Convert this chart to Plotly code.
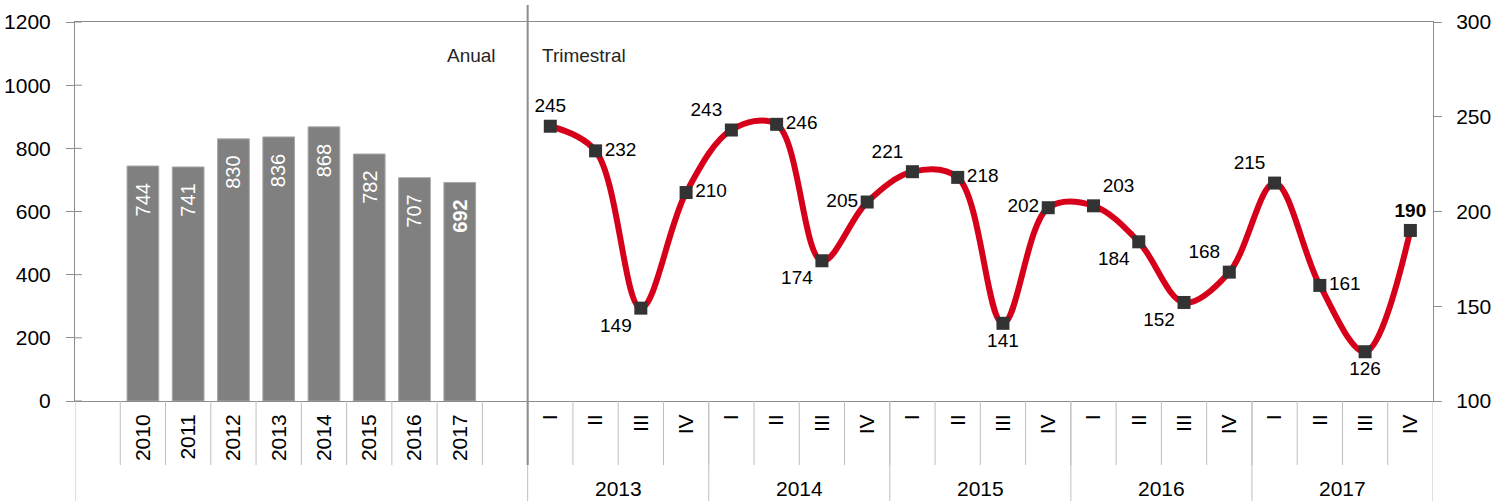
import plotly.graph_objects as go

# ---------------- data ----------------
years = ["2010", "2011", "2012", "2013", "2014", "2015", "2016", "2017"]
annual_values = [744, 741, 830, 836, 868, 782, 707, 692]

quarter_years = ["2013", "2014", "2015", "2016", "2017"]
quarters = ["I", "II", "III", "IV"]
quarterly_values = [245, 232, 149, 210,
                    243, 246, 174, 205,
                    221, 218, 141, 202,
                    203, 184, 152, 168,
                    215, 161, 126, 190]
quarter_label_pos = ["top center", "middle right", "bottom left", "middle right",
                     "top left", "middle right", "bottom left", "middle left",
                     "top left", "middle right", "bottom center", "middle left",
                     "top right", "bottom left", "bottom left", "top left",
                     "top left", "middle right", "bottom center", "top center"]

left_ticks = [0, 200, 400, 600, 800, 1000, 1200]
right_ticks = [100, 150, 200, 250, 300]

FONT = "Liberation Sans Narrow, Arial Narrow, Liberation Sans, Arial, sans-serif"
AXIS_GRAY = "#8c8c8c"
SEP_GRAY = "#bfbfbf"

# slot layout: slot 0 blank, years, blank slot, quarters
year_slots = [1 + i for i in range(len(years))]
q_start = len(years) + 2
quarter_slots = [q_start + i for i in range(len(quarterly_values))]
n_slots = q_start + len(quarterly_values)

fig = go.Figure()

fig.add_trace(go.Bar(
    x=year_slots, y=annual_values,
    marker=dict(color="#808080", line=dict(color="#a6a6a6", width=1)),
    width=0.7, yaxis="y", hoverinfo="y", showlegend=False,
))

q_text = [f"<b>{v}</b>" if i == len(quarterly_values) - 1 else str(v)
          for i, v in enumerate(quarterly_values)]
fig.add_trace(go.Scatter(
    x=quarter_slots, y=quarterly_values, yaxis="y2",
    mode="lines+markers+text",
    line=dict(color="#d7001b", width=6, shape="spline", smoothing=1.0),
    marker=dict(symbol="square", size=13, color="#333333"),
    text=q_text, textposition=quarter_label_pos,
    textfont=dict(family=FONT, size=19, color="#000000"),
    showlegend=False,
))

annotations = []
# bar value labels (rotated, inside top)
for i, (s, v) in enumerate(zip(year_slots, annual_values)):
    t = f"<b>{v}</b>" if i == len(annual_values) - 1 else str(v)
    annotations.append(dict(
        x=s, y=v, xref="x", yref="y", text=t, showarrow=False,
        textangle=-90, yanchor="top", xanchor="center", yshift=-15,
        font=dict(family=FONT, size=20, color="#ffffff"),
    ))

# group labels for quarters
for g, yr in enumerate(quarter_years):
    center = q_start + g * len(quarters) + (len(quarters) - 1) / 2
    annotations.append(dict(
        x=center, y=-0.23, xref="x", yref="paper", text=yr, showarrow=False,
        yanchor="middle", font=dict(family=FONT, size=21, color="#000000"),
    ))

annotations.append(dict(x=q_start - 0.5, y=0.945, xref="x", yref="paper", text="Anual",
                        showarrow=False, xanchor="right", xshift=-30,
                        font=dict(family=FONT, size=19, color="#262626")))
annotations.append(dict(x=q_start - 0.5, y=0.945, xref="x", yref="paper", text="Trimestral",
                        showarrow=False, xanchor="left", xshift=12,
                        font=dict(family=FONT, size=19, color="#262626")))

shapes = []
# separators between tick label slots
for b in range(0, n_slots - 1):
    xb = b + 0.5
    shapes.append(dict(type="line", xref="x", yref="paper", x0=xb, x1=xb,
                       y0=0, y1=-0.169, line=dict(color=SEP_GRAY, width=1)))
# long separators (left edge, groups, right edge)
long_bounds = [-0.5] + [q_start - 0.5 + g * len(quarters) for g in range(len(quarter_years) + 1)]
for xb in long_bounds:
    shapes.append(dict(type="line", xref="x", yref="paper", x0=xb, x1=xb,
                       y0=0, y1=-0.264, line=dict(color=SEP_GRAY, width=1)))
# main divider
shapes.append(dict(type="line", xref="x", yref="paper", x0=q_start - 0.5, x1=q_start - 0.5,
                   y0=1.045, y1=-0.169, line=dict(color=AXIS_GRAY, width=2)))
# inner half of the crossing ticks on the left axis
for tv in left_ticks:
    shapes.append(dict(type="line", xref="paper", yref="y", x0=0, x1=7 / 1358,
                       y0=tv, y1=tv, line=dict(color=AXIS_GRAY, width=1)))

tick_text = [""] + years + [""] + quarters * len(quarter_years)

fig.update_layout(
    width=1500, height=501,
    margin=dict(l=75, r=67, t=22, b=100, autoexpand=False),
    plot_bgcolor="#ffffff", paper_bgcolor="#ffffff",
    font=dict(family=FONT, size=21, color="#000000"),
    xaxis=dict(
        range=[-0.5, n_slots - 0.5], tickmode="array",
        tickvals=list(range(n_slots)), ticktext=tick_text, tickangle=-90,
        ticks="", showline=True, linecolor=AXIS_GRAY, linewidth=1, mirror=True,
        showgrid=False, zeroline=False, fixedrange=True, automargin=False,
        ticklabelstandoff=4, tickfont=dict(family=FONT, size=21),
    ),
    yaxis=dict(
        range=[0, 1200], tickvals=left_ticks, ticks="outside", ticklen=8,
        tickcolor=AXIS_GRAY, showline=True, linecolor=AXIS_GRAY, linewidth=1,
        showgrid=False, zeroline=False, ticklabelstandoff=11, automargin=False,
        tickfont=dict(family=FONT, size=21),
    ),
    yaxis2=dict(
        range=[100, 300], tickvals=right_ticks, overlaying="y", side="right",
        ticks="outside", ticklen=8, tickcolor=AXIS_GRAY, showline=True,
        linecolor=AXIS_GRAY, linewidth=1, showgrid=False, zeroline=False,
        ticklabelstandoff=10, automargin=False, tickfont=dict(family=FONT, size=21),
    ),
    annotations=annotations, shapes=shapes,
    bargap=0.3,
)

fig.write_html("out.html", config={"displayModeBar": False},
               post_script="document.body.style.margin='0';document.body.style.overflow='hidden';")
